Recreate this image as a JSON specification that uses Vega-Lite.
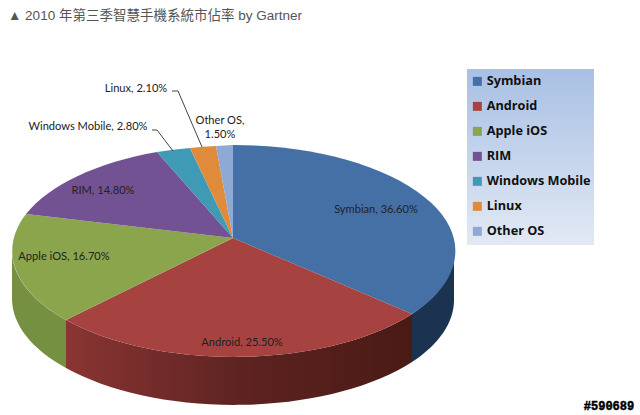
{
"$schema":"https://vega.github.io/schema/vega-lite/v6.json",
"width":640,"height":415,"autosize":"none","padding":0,"background":"white",
"title":{"text":"▲ 2010 年第三季智慧手機系統市佔率 by Gartner","anchor":"start","frame":"group","orient":"top","offset":0,"dx":8,"dy":22,"font":"Liberation Sans, Noto Sans CJK TC","fontSize":13.5,"fontWeight":"normal","color":"#555555"},
"datasets":{
"slices":[{"os":"Symbian","share":36.6},{"os":"Android","share":25.5},{"os":"Apple iOS","share":16.7},{"os":"RIM","share":14.8},{"os":"Windows Mobile","share":2.8},{"os":"Linux","share":2.1},{"os":"Other OS","share":1.5}],
"labels":[
{"t":"Symbian, 36.60%","x":376,"y":210},
{"t":"Android, 25.50%","x":242,"y":343},
{"t":"Apple iOS, 16.70%","x":64,"y":257},
{"t":"RIM, 14.80%","x":103,"y":191},
{"t":"Windows Mobile, 2.80%","x":88,"y":127},
{"t":"Linux, 2.10%","x":136,"y":89},
{"t":"Other OS,\n1.50%","x":220,"y":121}],
"leaders":[
{"os":"Linux","x":172,"y":91,"o":1},{"os":"Linux","x":178,"y":91,"o":2},{"os":"Linux","x":202,"y":147,"o":3},
{"os":"Windows Mobile","x":152,"y":130,"o":1},{"os":"Windows Mobile","x":157,"y":130,"o":2},{"os":"Windows Mobile","x":173,"y":151,"o":3}],
"stamp":[{"t":"#590689","x":609,"y":406}],
"legendBox":[{"x":467,"x2":594,"y":69,"y2":245}]
},
"layer":[
{"data":{"name":"legendBox"},
"mark":{"type":"rect","fill":{"gradient":"linear","x1":0,"x2":0,"y1":0,"y2":1,"stops":[{"offset":0,"color":"#a8c0e4"},{"offset":1,"color":"#e2e9f4"}]}},
"encoding":{"x":{"field":"x","type":"quantitative","scale":{"domain":[0,640],"nice":false},"axis":null},"x2":{"field":"x2"},"y":{"field":"y","type":"quantitative","scale":{"domain":[0,415],"reverse":true,"nice":false},"axis":null},"y2":{"field":"y2"}}},
{"data":{"name":"slices"},"transform":[{"filter":"datum.os==='Symbian'"}],
"mark":{"type":"point","filled":true,"opacity":1,"strokeWidth":0,"fill":"#1b3350"},
"encoding":{"x":{"datum":233,"type":"quantitative"},"y":{"datum":238,"type":"quantitative"},"size":{"value":4},"shape":{"value":"M221 13 A221.5 106 0 0 1 179 76 L179 124 A221.5 106 0 0 0 221 61 Z"}}},
{"data":{"name":"slices"},"transform":[{"filter":"datum.os==='Android'"}],
"mark":{"type":"point","filled":true,"opacity":1,"strokeWidth":0,"fill":{"gradient":"linear","x1":0,"x2":1,"y1":0,"y2":0,"stops":[{"offset":0,"color":"#8a3533"},{"offset":0.5,"color":"#5e2321"},{"offset":1,"color":"#4a1a15"}]}},
"encoding":{"x":{"datum":233,"type":"quantitative"},"y":{"datum":238,"type":"quantitative"},"size":{"value":4},"shape":{"value":"M179 76 A221.5 106 0 0 1 -167 82 L-167 130 A221.5 106 0 0 0 179 124 Z"}}},
{"data":{"name":"slices"},"transform":[{"filter":"datum.os==='Apple iOS'"}],
"mark":{"type":"point","filled":true,"opacity":1,"strokeWidth":0,"fill":"#759040"},
"encoding":{"x":{"datum":233,"type":"quantitative"},"y":{"datum":238,"type":"quantitative"},"size":{"value":4},"shape":{"value":"M-167 82 A221.5 106 0 0 1 -221 13 L-221 61 A221.5 106 0 0 0 -167 130 Z"}}},
{"data":{"name":"slices"},
"mark":{"type":"point","filled":true,"opacity":1,"strokeWidth":0},
"encoding":{"x":{"datum":233,"type":"quantitative"},"y":{"datum":238,"type":"quantitative"},"size":{"value":4},
"shape":{"field":"os","type":"nominal","legend":null,"sort":null,"scale":{"domain":["Other OS","Linux","Windows Mobile","RIM","Apple iOS","Android","Symbian"],"range":[
"M0 0 L-17 -92 A221.5 106 0 0 1 0 -93 Z",
"M0 0 L-43 -90 A221.5 106 0 0 1 -17 -92 Z",
"M0 0 L-76 -86 A221.5 106 0 0 1 -43 -90 Z",
"M0 0 L-207 -24 A221.5 106 0 0 1 -76 -86 Z",
"M0 0 L-167 82 A221.5 106 0 0 1 -207 -24 Z",
"M0 0 L179 76 A221.5 106 0 0 1 -167 82 Z",
"M0 0 L0 -93 A221.5 106 0 0 1 179 76 Z"]}},
"color":{"field":"os","type":"nominal","sort":null,"scale":{"domain":["Symbian","Android","Apple iOS","RIM","Windows Mobile","Linux","Other OS"],"range":["#4470a6","#a64340","#8ba54c","#735293","#3f9bb5","#e08b3c","#8fa9d5"]},
"legend":{"title":null,"orient":"none","legendX":467,"legendY":71,"padding":4,"symbolType":"square","symbolSize":81,"symbolStrokeWidth":0,"rowPadding":11,"labelFont":"Open Sans","labelFontWeight":"bold","labelFontSize":12.7,"labelColor":"#111111","labelOffset":3,"labelLimit":140}}}},
{"data":{"name":"leaders"},"mark":{"type":"line","color":"#444444","strokeWidth":1},
"encoding":{"x":{"field":"x","type":"quantitative"},"y":{"field":"y","type":"quantitative"},"detail":{"field":"os","type":"nominal"},"order":{"field":"o","type":"quantitative"}}},
{"data":{"name":"labels"},"mark":{"type":"text","font":"Lato","fontSize":11.1,"color":"#222222","lineBreak":"\n","lineHeight":14,"align":"center","baseline":"middle"},
"encoding":{"x":{"field":"x","type":"quantitative"},"y":{"field":"y","type":"quantitative"},"text":{"field":"t","type":"nominal"}}},
{"data":{"name":"stamp"},"mark":{"type":"text","font":"Liberation Mono","fontWeight":"bold","fontSize":12,"color":"white","stroke":"white","strokeWidth":3,"align":"center","baseline":"middle"},
"encoding":{"x":{"field":"x","type":"quantitative"},"y":{"field":"y","type":"quantitative"},"text":{"field":"t","type":"nominal"}}},
{"data":{"name":"stamp"},"mark":{"type":"text","font":"Liberation Mono","fontWeight":"bold","fontSize":12,"color":"black","stroke":"black","strokeWidth":0.5,"align":"center","baseline":"middle"},
"encoding":{"x":{"field":"x","type":"quantitative"},"y":{"field":"y","type":"quantitative"},"text":{"field":"t","type":"nominal"}}}
],
"config":{"view":{"stroke":null}}
}
